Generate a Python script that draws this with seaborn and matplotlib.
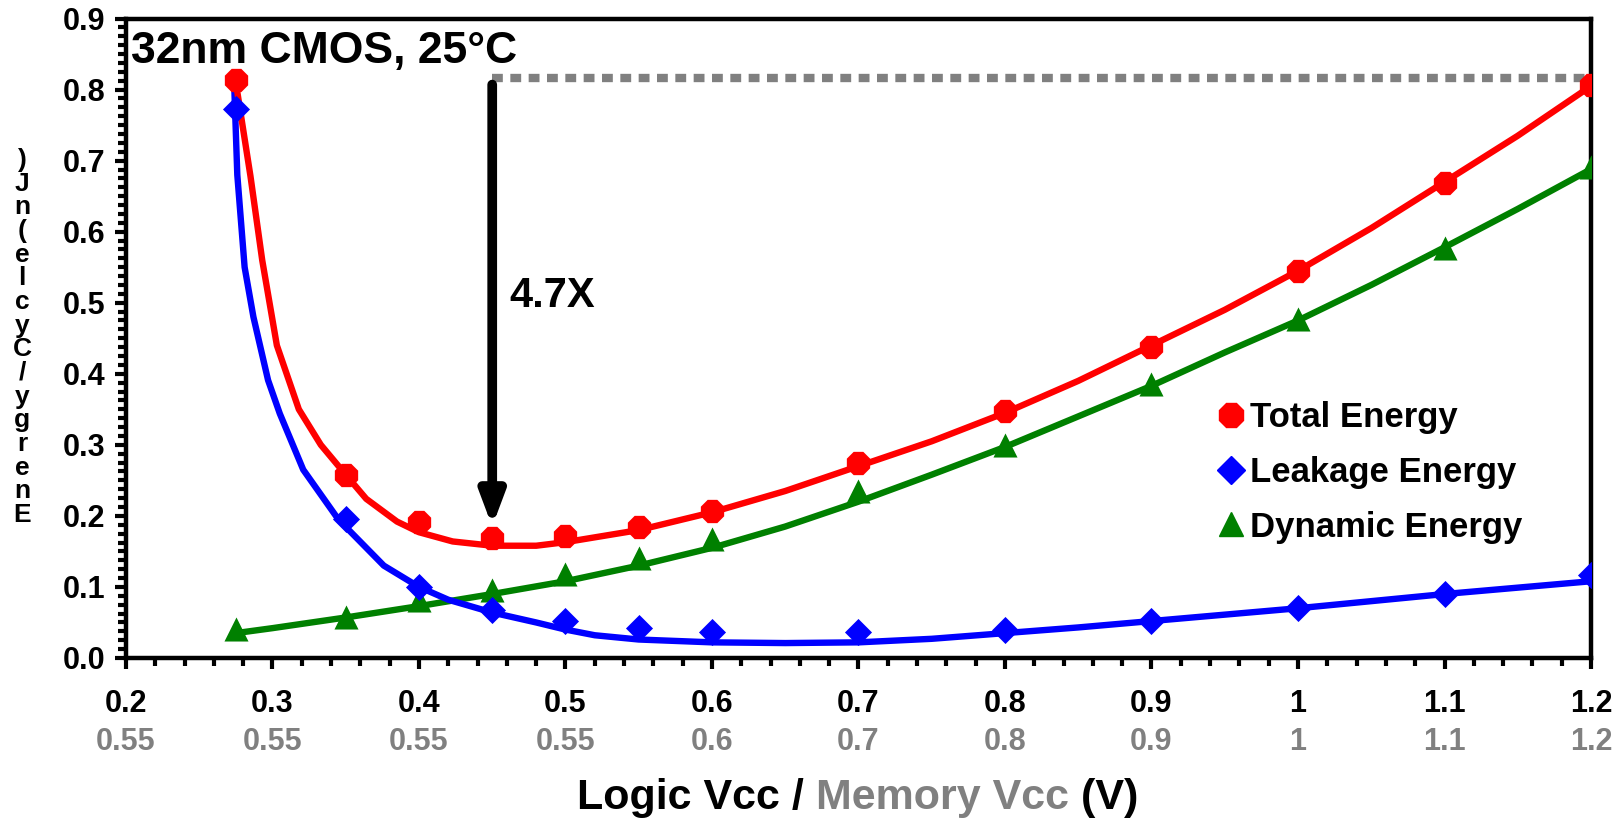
import numpy as np
import pandas as pd
import matplotlib
matplotlib.use("Agg")
import matplotlib.pyplot as plt
import matplotlib.transforms as mtransforms
from matplotlib.lines import Line2D
from matplotlib.ticker import MultipleLocator
import seaborn as sns

# ---------------- data ----------------
vcc_pts = [0.275, 0.35, 0.40, 0.45, 0.50, 0.55, 0.60, 0.70, 0.80, 0.90, 1.00, 1.10, 1.20]
total_pts = [0.813, 0.258, 0.192, 0.169, 0.172, 0.185, 0.207, 0.275, 0.347, 0.437, 0.544, 0.669, 0.806]
leak_pts = [0.772, 0.195, 0.100, 0.067, 0.052, 0.042, 0.036, 0.036, 0.039, 0.052, 0.070, 0.090, 0.117]
dyn_pts = [0.041, 0.058, 0.082, 0.096, 0.118, 0.141, 0.168, 0.235, 0.300, 0.385, 0.477, 0.577, 0.691]

total_curve_x = [0.275, 0.285, 0.293, 0.303, 0.318, 0.333, 0.35, 0.364, 0.385, 0.40, 0.423, 0.45, 0.48, 0.50, 0.55, 0.60, 0.65, 0.70, 0.75, 0.80, 0.85, 0.90, 0.95, 1.00, 1.05, 1.10, 1.15, 1.20]
total_curve_y = [0.81, 0.678, 0.56, 0.44, 0.35, 0.30, 0.258, 0.224, 0.192, 0.177, 0.164, 0.158, 0.158, 0.163, 0.18, 0.205, 0.235, 0.27, 0.305, 0.345, 0.39, 0.44, 0.49, 0.545, 0.605, 0.67, 0.735, 0.805]

leak_curve_x = [0.274, 0.276, 0.281, 0.287, 0.297, 0.305, 0.321, 0.345, 0.376, 0.40, 0.42, 0.45, 0.48, 0.50, 0.52, 0.55, 0.60, 0.65, 0.70, 0.75, 0.80, 0.85, 0.90, 0.95, 1.00, 1.05, 1.10, 1.15, 1.20]
leak_curve_y = [0.80, 0.68, 0.55, 0.48, 0.391, 0.344, 0.265, 0.195, 0.13, 0.10, 0.082, 0.064, 0.05, 0.04, 0.032, 0.026, 0.022, 0.021, 0.022, 0.027, 0.035, 0.043, 0.052, 0.061, 0.070, 0.080, 0.090, 0.099, 0.108]

dyn_curve_x = [0.275, 0.30, 0.35, 0.40, 0.45, 0.50, 0.55, 0.60, 0.65, 0.70, 0.75, 0.80, 0.85, 0.90, 0.95, 1.00, 1.05, 1.10, 1.15, 1.20]
dyn_curve_y = [0.035, 0.042, 0.057, 0.073, 0.09, 0.108, 0.13, 0.155, 0.185, 0.22, 0.258, 0.297, 0.34, 0.383, 0.43, 0.475, 0.525, 0.578, 0.632, 0.688]

x_ticks = [0.2, 0.3, 0.4, 0.5, 0.6, 0.7, 0.8, 0.9, 1.0, 1.1, 1.2]
logic_labels = ["0.2", "0.3", "0.4", "0.5", "0.6", "0.7", "0.8", "0.9", "1", "1.1", "1.2"]
memory_labels = ["0.55", "0.55", "0.55", "0.55", "0.6", "0.7", "0.8", "0.9", "1", "1.1", "1.2"]
y_ticks = [0.0, 0.1, 0.2, 0.3, 0.4, 0.5, 0.6, 0.7, 0.8, 0.9]
y_labels = ["0.0", "0.1", "0.2", "0.3", "0.4", "0.5", "0.6", "0.7", "0.8", "0.9"]

series_names = ["Total Energy", "Leakage Energy", "Dynamic Energy"]
colors = ["#ff0000", "#0000ff", "#008000"]
markers = ["8", "D", "^"]

ref_x = [0.45, 1.2]
ref_y = 0.816
arrow_top = 0.807
arrow_tip = 0.185

# ---------------- style ----------------
sns.set_theme(style="white")
font_list = ["Liberation Sans", "DejaVu Sans"]
plt.rcParams["font.family"] = font_list
plt.rcParams["text.color"] = "black"
plt.rcParams["axes.labelcolor"] = "black"
plt.rcParams["xtick.color"] = "black"
plt.rcParams["ytick.color"] = "black"

fig = plt.figure(figsize=(16.21, 8.23), dpi=100)
ax = fig.add_axes([0.0777, 0.2005, 0.9038, 0.777])

curves = pd.concat([
    pd.DataFrame({"x": total_curve_x, "y": total_curve_y, "s": series_names[0]}),
    pd.DataFrame({"x": leak_curve_x, "y": leak_curve_y, "s": series_names[1]}),
    pd.DataFrame({"x": dyn_curve_x, "y": dyn_curve_y, "s": series_names[2]}),
])
pts = pd.concat([
    pd.DataFrame({"x": vcc_pts, "y": total_pts, "s": series_names[0]}),
    pd.DataFrame({"x": vcc_pts, "y": leak_pts, "s": series_names[1]}),
    pd.DataFrame({"x": vcc_pts, "y": dyn_pts, "s": series_names[2]}),
])
palette = dict(zip(series_names, colors))

for name, mk, sz in [(series_names[2], "^", 300), (series_names[1], "D", 190), (series_names[0], "8", 330)]:
    sub_c = curves[curves["s"] == name]
    sns.lineplot(data=sub_c, x="x", y="y", color=palette[name], linewidth=4.6,
                 sort=False, estimator=None, ax=ax, legend=False)
    sub_p = pts[pts["s"] == name]
    sns.scatterplot(data=sub_p, x="x", y="y", color=palette[name], marker=mk, s=sz,
                    linewidth=0, ax=ax, legend=False, zorder=4)

# reference dotted line and arrow
ax.plot(ref_x, [ref_y, ref_y], color="#808080", linewidth=6, linestyle=(0, (1.3, 0.9)),
        solid_capstyle="butt", dash_capstyle="butt")
ax.annotate("", xy=(ref_x[0], arrow_tip), xytext=(ref_x[0], arrow_top),
            arrowprops=dict(arrowstyle="-|>,head_length=1.6,head_width=0.6", color="black",
                            lw=7, shrinkA=0, shrinkB=0))
ax.text(0.462, 0.51, "4.7X", fontsize=30, fontweight="bold", ha="left", va="center", color="black")
ax.text(0.2035, 0.853, "32nm CMOS, 25°C", fontsize=32, fontweight="bold", ha="left",
        va="center", color="black")

# axes
ax.set_xlim(0.2, 1.2)
ax.set_ylim(0.0, 0.9)
ax.set_xlabel("")
ax.set_ylabel("")
ax.set_xticks(x_ticks)
ax.set_xticklabels(logic_labels)
ax.set_yticks(y_ticks)
ax.set_yticklabels(y_labels)
ax.xaxis.set_minor_locator(MultipleLocator(0.02))
ax.yaxis.set_minor_locator(MultipleLocator(0.0125))
for sp in ax.spines.values():
    sp.set_visible(True)
    sp.set_color("black")
    sp.set_linewidth(3.2)
ax.tick_params(axis="both", which="major", direction="out", length=8, width=3, color="black",
               bottom=True, left=True, top=False, right=False)
ax.tick_params(axis="both", which="minor", direction="out", length=6, width=3, color="black",
               bottom=True, left=True, top=False, right=False)
ax.tick_params(axis="x", which="major", pad=14)
ax.tick_params(axis="y", which="major", pad=7)
for lab in ax.get_xticklabels() + ax.get_yticklabels():
    lab.set_fontweight("bold")
    lab.set_fontsize(22)
    lab.set_color("black")

trans = mtransforms.blended_transform_factory(ax.transData, ax.transAxes)
for xv, lab in zip(x_ticks, memory_labels):
    ax.text(xv, -0.131, lab, transform=trans, ha="center", va="center",
            fontsize=22, fontweight="bold", color="#808080")

# x label in three colours
parts = [("Logic Vcc / ", "black"), ("Memory Vcc", "#808080"), (" (V)", "black")]
fig.canvas.draw()
renderer = fig.canvas.get_renderer()
texts = []
for s, c in parts:
    t = fig.text(0, 0.03, s, fontsize=31, fontweight="bold", color=c,
                 ha="left", va="center")
    texts.append(t)
widths = [t.get_window_extent(renderer).width for t in texts]
total_w = sum(widths)
x0 = 858 - total_w / 2
for t, w in zip(texts, widths):
    t.set_x(x0 / fig.bbox.width)
    x0 += w

# stacked y label characters (as in the original figure)
ylab_chars = list(")Jn(elcyC/ygrenE")
ys = np.linspace(823 - 160, 823 - 515, len(ylab_chars))
for ch, yy in zip(ylab_chars, ys):
    fig.text(22 / 1621, yy / 823, ch, fontsize=19, fontweight="bold", ha="center",
             va="center", color="black")

# legend
handles = [Line2D([], [], linestyle="none", marker=m, color=c, markersize=ms)
           for m, c, ms in zip(markers, colors, [18, 14, 17])]
leg = ax.legend(handles, series_names, loc="upper left", bbox_to_anchor=(0.726, 0.45),
                frameon=False, handlelength=0.6, handletextpad=0.25, labelspacing=0.62,
                prop=dict(weight="bold", size=25))
for t in leg.get_texts():
    t.set_color("black")

fig.savefig("out.png", dpi=100)
